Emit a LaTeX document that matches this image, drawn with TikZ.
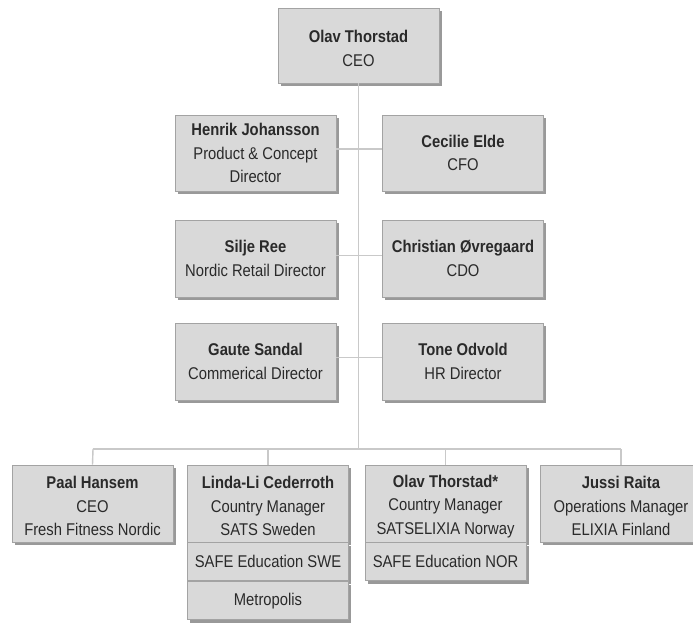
\documentclass[tikz,border=0pt]{standalone}
\usepackage{fontspec}
\setmainfont{Liberation Sans}[FakeStretch=0.87]
\usetikzlibrary{shadows}
\definecolor{boxfill}{HTML}{D9D9D9}
\definecolor{boxline}{HTML}{A3A3A3}
\definecolor{shadowc}{HTML}{8E8E8E}
\definecolor{linec}{HTML}{C9C9C9}
\definecolor{textc}{HTML}{2A2A2A}
\newcommand\toppad{\rule{0pt}{18pt}}
\tikzset{
  orgbox/.style={draw=boxline, line width=0.8pt, fill=boxfill, minimum width=161pt,
    minimum height=#1, align=center, inner sep=0pt, text=textc,
    font=\fontsize{17}{23.5}\selectfont,
    drop shadow={shadow xshift=2.5pt, shadow yshift=-3pt, fill=shadowc, opacity=0.9}},
  orgbox/.default=77pt,
  subbox/.style={draw=boxline, line width=0.8pt, fill=boxfill, minimum width=161pt,
    minimum height=38pt, align=center, inner sep=0pt, text=textc,
    font=\fontsize{17}{23.5}\selectfont,
    drop shadow={shadow xshift=2.5pt, shadow yshift=-3pt, fill=shadowc, opacity=0.9}},
  conn/.style={draw=linec, line width=1.4pt}
}
\begin{document}
\begin{tikzpicture}[x=1pt,y=-1pt]
\useasboundingbox (0,0) rectangle (693,624);
\fill[white] (0,0) rectangle (693,624);
\coordinate (busL) at (93,449);
\coordinate (busR) at (621,449);
\coordinate (busM) at (358.5,449);
\node[orgbox=75pt] (ceo) at (358.5,45.5) {\toppad\textbf{Olav Thorstad}\\CEO};
\draw[conn] (ceo.south) -- (busM);
\draw[conn] (busL) -- (busR);
\node[orgbox, minimum height=76pt] (henrik) at (255.5,153) {\textbf{Henrik Johansson}\\Product \& Concept\\Director};
\node[orgbox, minimum height=76pt] (cecilie) at (463,153) {\textbf{Cecilie Elde}\\CFO};
\node[orgbox] (silje) at (255.5,258.5) {\textbf{Silje Ree}\\Nordic Retail Director};
\node[orgbox] (christian) at (463,258.5) {\textbf{Christian Øvregaard}\\CDO};
\node[orgbox] (gaute) at (255.5,361.5) {\textbf{Gaute Sandal}\\Commerical Director};
\node[orgbox] (tone) at (463,361.5) {\textbf{Tone Odvold}\\HR Director};
\draw[conn] ([yshift=4pt]henrik.east) -- ([yshift=4pt]cecilie.west);
\draw[conn] ([yshift=3pt]silje.east) -- ([yshift=3pt]christian.west);
\draw[conn] ([yshift=4pt]gaute.east) -- ([yshift=4pt]tone.west);
% bottom row
\node[orgbox] (paal) at (92.5,503.5) {\toppad\textbf{Paal Hansem}\\CEO\\Fresh Fitness Nordic};
\node[orgbox] (linda) at (268,503.5) {\toppad\textbf{Linda-Li Cederroth}\\Country Manager\\SATS Sweden};
\node[subbox, anchor=north] (safeswe) at (linda.south) {SAFE Education SWE};
\node[subbox, anchor=north] (metro) at (safeswe.south) {Metropolis};
\node[orgbox] (olav2) at (445.5,503.5) {\toppad\textbf{Olav Thorstad*}\\Country Manager\\SATSELIXIA Norway};
\node[subbox, anchor=north] (safenor) at (olav2.south) {SAFE Education NOR};
\node[orgbox] (jussi) at (621,503.5) {\toppad\textbf{Jussi Raita}\\Operations Manager\\ELIXIA Finland};
\draw[conn] (busL) -- (paal.north);
\draw[conn] (linda.north |- busL) -- (linda.north);
\draw[conn] (olav2.north |- busL) -- (olav2.north);
\draw[conn] (busR) -- (jussi.north);
\end{tikzpicture}
\end{document}
